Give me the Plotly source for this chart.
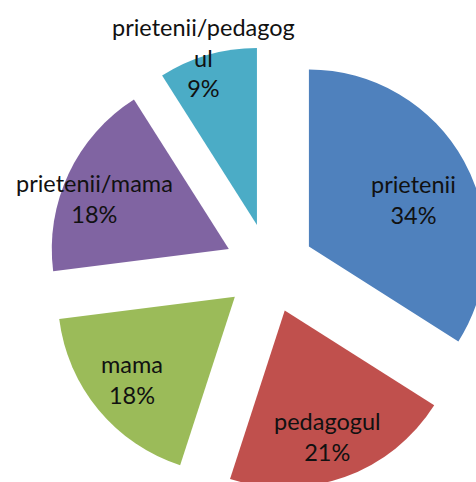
import plotly.graph_objects as go

labels = ["prietenii", "pedagogul", "mama", "prietenii/mama", "prietenii/pedagogul"]
values = [34, 21, 18, 18, 9]
colors = ["#4F81BD", "#C0504D", "#9BBB59", "#8064A2", "#4BACC6"]
label_lines = ["prietenii", "pedagogul", "mama", "prietenii/mama", "prietenii/pedagog<br>ul"]

W, H = 500, 500
pull = 0.254
half = 222  # r*(1+pull) in px
cx, cy = 269.5, 268.2

fig = go.Figure()
fig.add_trace(go.Pie(
    values=values, labels=labels, sort=False, direction="clockwise", rotation=0,
    pull=[pull] * len(values), marker=dict(colors=colors, line=dict(width=0)),
    textinfo="none", hoverinfo="skip", showlegend=False,
    domain=dict(x=[(cx - half) / W, (cx + half) / W],
                y=[1 - (cy + half) / H, 1 - (cy - half) / H])))

total = sum(values)
label_pos = [(413, 199), (327, 436), (132, 379), (94, 198), (203, 58)]
for txt, v, (x, y) in zip(label_lines, values, label_pos):
    fig.add_annotation(
        x=x / W, y=1 - y / H, xref="paper", yref="paper", showarrow=False,
        xanchor="center", yanchor="middle",
        text=f"{txt}<br>{round(v / total * 100)}%",
        font=dict(family="Lato", size=23.5, color="#111111"), align="center")

fig.update_layout(width=W, height=H, margin=dict(l=0, r=0, t=0, b=0),
                  paper_bgcolor="white", plot_bgcolor="white")
fig.write_html(
    "out.html",
    config={"displayModeBar": False},
    post_script=("document.documentElement.style.overflow='hidden';"
                 "document.body.style.margin='0';"
                 "document.body.style.overflow='hidden';"))
